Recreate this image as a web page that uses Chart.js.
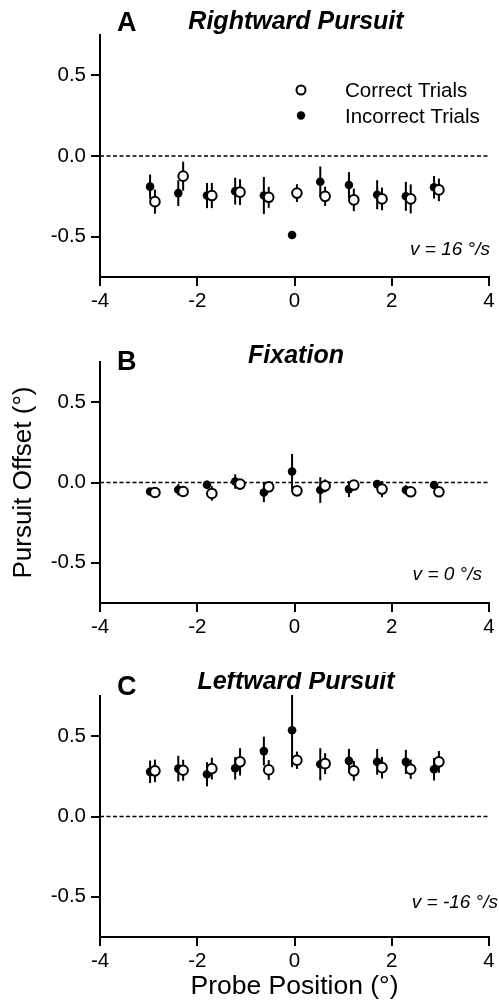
<!DOCTYPE html>
<html>
<head>
<meta charset="utf-8">
<script src="https://cdn.jsdelivr.net/npm/chart.js@4.4.0/dist/chart.umd.min.js"></script>
<style>
  body { margin: 0; background: #fff; }
  .panel { position: absolute; left: 0; width: 499px; height: 336px; }
</style>
</head>
<body>
<div class="panel" style="top:0"><canvas id="chartA" width="499" height="336"></canvas></div>
<div class="panel" style="top:336px"><canvas id="chartB" width="499" height="336"></canvas></div>
<div class="panel" style="top:672px"><canvas id="chartC" width="499" height="336"></canvas></div>
<script>
// probe positions (deg)
const probePositions = [-2.92, -2.34, -1.75, -1.17, -0.58, 0, 0.58, 1.17, 1.75, 2.34, 2.92];
const xTicks = [-4, -2, 0, 2, 4];
const yTicks = [-0.5, 0, 0.5];

// A - rightward pursuit
const rightIncorrect    = [-0.19, -0.23, -0.245, -0.218, -0.245, -0.49, -0.16, -0.18, -0.24, -0.25, -0.194];
const rightIncorrectErr = [0.075, 0.08, 0.078, 0.083, 0.115, 0, 0.095, 0.08, 0.09, 0.09, 0.07];
const rightCorrect      = [-0.283, -0.125, -0.245, -0.224, -0.256, -0.23, -0.25, -0.272, -0.266, -0.266, -0.21];
const rightCorrectErr   = [0.075, 0.09, 0.078, 0.08, 0.065, 0.055, 0.06, 0.07, 0.07, 0.09, 0.07];

// B - fixation
const fixIncorrect    = [-0.056, -0.045, -0.014, 0.006, -0.062, 0.068, -0.047, -0.041, -0.01, -0.047, -0.016];
const fixIncorrectErr = [0.02, 0.035, 0.025, 0.045, 0.06, 0.11, 0.08, 0.05, 0.02, 0.03, 0.02];
const fixCorrect      = [-0.062, -0.056, -0.068, -0.01, -0.027, -0.052, -0.021, -0.016, -0.041, -0.058, -0.058];
const fixCorrectErr   = [0.02, 0.03, 0.045, 0.03, 0.03, 0.02, 0.04, 0.03, 0.05, 0.025, 0.03];

// C - leftward pursuit
const leftIncorrect    = [0.278, 0.298, 0.263, 0.30, 0.407, 0.537, 0.325, 0.346, 0.34, 0.34, 0.294];
const leftIncorrectErr = [0.07, 0.08, 0.075, 0.07, 0.09, 0.23, 0.1, 0.075, 0.08, 0.075, 0.07];
const leftCorrect      = [0.284, 0.288, 0.298, 0.34, 0.29, 0.35, 0.329, 0.284, 0.304, 0.294, 0.34];
const leftCorrectErr   = [0.07, 0.065, 0.068, 0.085, 0.062, 0.054, 0.065, 0.062, 0.067, 0.06, 0.068];

const FONT = "'Liberation Sans', Arial, sans-serif";
const SHIFT = 0.05; // incorrect drawn a bit left, correct a bit right

function points(ys, errs, dx) {
  return ys.map((y, i) => ({ x: probePositions[i] + dx, y: y, err: errs[i] }));
}

// error bars + decorations
const decorPlugin = {
  id: 'decor',
  beforeDatasetsDraw(chart) {
    const ctx = chart.ctx, a = chart.chartArea;
    const xs = chart.scales.x, ys = chart.scales.y;
    ctx.save();
    ctx.beginPath();
    ctx.rect(a.left, a.top - 1, a.right - a.left, a.bottom - a.top + 1);
    ctx.clip();
    // dashed zero line
    ctx.strokeStyle = '#000';
    ctx.lineWidth = 1.5;
    ctx.setLineDash([4, 2.5]);
    ctx.beginPath();
    ctx.moveTo(a.left, ys.getPixelForValue(0));
    ctx.lineTo(a.right, ys.getPixelForValue(0));
    ctx.stroke();
    ctx.setLineDash([]);
    ctx.lineWidth = 2;
    chart.data.datasets.forEach(ds => {
      ds.data.forEach(p => {
        if (!p.err) return;
        const px = xs.getPixelForValue(p.x);
        ctx.beginPath();
        ctx.moveTo(px, ys.getPixelForValue(p.y + p.err));
        ctx.lineTo(px, ys.getPixelForValue(p.y - p.err));
        ctx.stroke();
      });
    });
    ctx.restore();
  },
  afterDraw(chart, args, o) {
    const ctx = chart.ctx;
    ctx.save();
    ctx.fillStyle = '#000';
    ctx.textBaseline = 'alphabetic';
    ctx.textAlign = 'left';
    ctx.font = 'bold 27px ' + FONT;
    ctx.fillText(o.letter, 117, o.letterY);
    ctx.textAlign = 'center';
    ctx.font = 'italic bold 25px ' + FONT;
    ctx.fillText(o.title, 296, o.titleY);
    ctx.textAlign = 'right';
    ctx.font = 'italic 19px ' + FONT;
    ctx.fillText(o.note, o.noteX, o.noteY);
    if (o.legend) {
      ctx.textAlign = 'left';
      ctx.font = '20.5px ' + FONT;
      ctx.fillText('Correct Trials', 345, 97);
      ctx.fillText('Incorrect Trials', 345, 123);
      ctx.lineWidth = 2;
      ctx.strokeStyle = '#000';
      ctx.fillStyle = '#fff';
      ctx.beginPath();
      ctx.arc(301, 90, 4.5, 0, Math.PI * 2);
      ctx.fill();
      ctx.stroke();
      ctx.fillStyle = '#000';
      ctx.beginPath();
      ctx.arc(301, 115.5, 4.2, 0, Math.PI * 2);
      ctx.fill();
    }
    ctx.restore();
  }
};

function makePanel(id, incorrect, incorrectErr, correct, correctErr, opts) {
  const ctx = document.getElementById(id).getContext('2d');
  return new Chart(ctx, {
    type: 'scatter',
    data: {
      datasets: [
        {
          label: 'Correct Trials',
          data: points(correct, correctErr, SHIFT),
          pointStyle: 'circle',
          pointRadius: 4.8,
          pointBackgroundColor: '#fff',
          pointBorderColor: '#000',
          pointBorderWidth: 2,
          order: 0
        },
        {
          label: 'Incorrect Trials',
          data: points(incorrect, incorrectErr, -SHIFT),
          pointStyle: 'circle',
          pointRadius: 4.3,
          pointBackgroundColor: '#000',
          pointBorderColor: '#000',
          pointBorderWidth: 0,
          order: 1
        }
      ]
    },
    options: {
      responsive: false,
      animation: false,
      events: [],
      layout: { padding: { top: opts.top, bottom: opts.bottom, left: 0, right: 10 } },
      plugins: {
        legend: { display: false },
        tooltip: { enabled: false },
        decor: opts.decor
      },
      scales: {
        x: {
          type: 'linear',
          min: -4,
          max: 4,
          afterBuildTicks: s => { s.ticks = xTicks.map(v => ({ value: v })); },
          afterFit: s => { s.height = opts.xHeight; },
          ticks: { color: '#000', font: { family: FONT, size: 20.5 }, padding: 3, callback: v => String(v) },
          grid: { drawOnChartArea: false, drawTicks: true, tickLength: 9, color: '#000', lineWidth: 2 },
          border: { color: '#000', width: 2 },
          title: {
            display: !!opts.xTitle,
            text: opts.xTitle || '',
            color: '#000',
            font: { family: FONT, size: 26.5 },
            padding: { top: 0, bottom: 5 }
          }
        },
        y: {
          type: 'linear',
          min: -0.75,
          max: 0.75,
          afterBuildTicks: s => { s.ticks = yTicks.map(v => ({ value: v })); },
          afterFit: s => { s.width = 100; },
          ticks: { color: '#000', font: { family: FONT, size: 20.5 }, padding: 5, callback: v => v.toFixed(1) },
          grid: { drawOnChartArea: false, drawTicks: true, tickLength: 9, color: '#000', lineWidth: 2 },
          border: { color: '#000', width: 2 },
          title: {
            display: !!opts.yTitle,
            text: opts.yTitle || '',
            color: '#000',
            font: { family: FONT, size: 26 },
            padding: { top: 8, bottom: 0 }
          }
        }
      }
    },
    plugins: [decorPlugin]
  });
}

makePanel('chartA', rightIncorrect, rightIncorrectErr, rightCorrect, rightCorrectErr, {
  top: 35, bottom: 19, xHeight: 40,
  decor: { letter: 'A', letterY: 30.5, title: 'Rightward Pursuit', titleY: 29, note: 'v = 16 °/s', noteX: 490, noteY: 255, legend: true }
});

makePanel('chartB', fixIncorrect, fixIncorrectErr, fixCorrect, fixCorrectErr, {
  top: 26, bottom: 29, xHeight: 40, yTitle: 'Pursuit Offset (°)',
  decor: { letter: 'B', letterY: 34, title: 'Fixation', titleY: 27, note: 'v = 0 °/s', noteX: 482, noteY: 244, legend: false }
});

makePanel('chartC', leftIncorrect, leftIncorrectErr, leftCorrect, leftCorrectErr, {
  top: 24, bottom: 0, xHeight: 71, xTitle: 'Probe Position (°)',
  decor: { letter: 'C', letterY: 23, title: 'Leftward Pursuit', titleY: 17, note: 'v = -16 °/s', noteX: 498, noteY: 236, legend: false }
});
</script>
</body>
</html>
